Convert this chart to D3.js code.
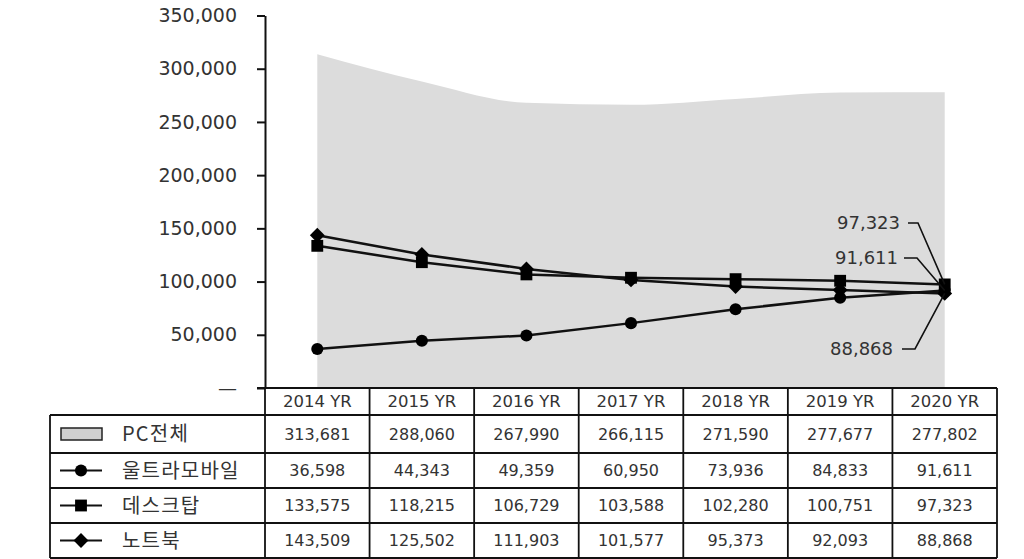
<!DOCTYPE html>
<html><head><meta charset="utf-8">
<script src="https://cdn.jsdelivr.net/npm/d3@7"></script>
<style>
body{margin:0;background:#fff;}
svg{display:block;}
</style></head>
<body><svg id="c" width="1024" height="559"></svg>
<script>
const years = ["2014 YR","2015 YR","2016 YR","2017 YR","2018 YR","2019 YR","2020 YR"];
const seriesNames = ["PC전체","울트라모바일","데스크탑","노트북"];
const pcTotal = [313681,288060,267990,266115,271590,277677,277802];
const ultraMobile = [36598,44343,49359,60950,73936,84833,91611];
const desktop = [133575,118215,106729,103588,102280,100751,97323];
const notebook = [143509,125502,111903,101577,95373,92093,88868];
const yTicks = [0,50000,100000,150000,200000,250000,300000,350000];

const svg = d3.select("#c");
const numFont = "DejaVu Sans, sans-serif";
const krFont = "'Noto Sans CJK KR', sans-serif";
const txtColor = "#333";
const fmt = d3.format(",");

const x = d3.scaleBand().domain(years).range([265, 997]);
const y = d3.scaleLinear().domain([0, 350000]).range([388, 15.5]);
const cx = d => x(d) + x.bandwidth()/2;

// area
const area = d3.area().x((d,i)=>cx(years[i])).y0(y(0)).y1(d=>y(d)).curve(d3.curveMonotoneX);
svg.append("path").datum(pcTotal).attr("d", area).attr("fill", "#dcdcdc");

// y axis
const yAxis = d3.axisLeft(y).tickValues(yTicks).tickSize(8).tickSizeOuter(0).tickPadding(20)
  .tickFormat(d => d === 0 ? "—" : fmt(d));
const ga = svg.append("g").attr("transform", "translate(265,0)").call(yAxis);
ga.selectAll("text").attr("font-family", numFont).attr("font-size", 19).attr("fill", txtColor);
ga.selectAll("line,path").attr("stroke", "#111").attr("stroke-width", 2);

// lines
const diamond = {draw(ctx, size){ const r = Math.sqrt(size/2); ctx.moveTo(0,-r); ctx.lineTo(r,0); ctx.lineTo(0,r); ctx.lineTo(-r,0); ctx.closePath(); }};
const lineSeries = [
  {name: seriesNames[1], data: ultraMobile, sym: d3.symbolCircle, size: 115},
  {name: seriesNames[2], data: desktop, sym: d3.symbolSquare, size: 140},
  {name: seriesNames[3], data: notebook, sym: diamond, size: 110},
];
const line = d3.line().x((d,i)=>cx(years[i])).y(d=>y(d));
lineSeries.forEach(s => {
  svg.append("path").datum(s.data).attr("d", line).attr("fill","none").attr("stroke","#111").attr("stroke-width",2.5);
});
lineSeries.forEach(s => {
  svg.append("g").selectAll("path").data(s.data).join("path")
    .attr("transform", (d,i)=>`translate(${cx(years[i])},${y(d)})`)
    .attr("d", d3.symbol().type(s.sym).size(s.size)).attr("fill","#000");
});

// end labels
const last = years.length - 1;
const ann = [
  {v: desktop[last], tx: 900, ty: 223, lx0: 908, lx1: 918},
  {v: ultraMobile[last], tx: 898, ty: 258, lx0: 904, lx1: 917},
  {v: notebook[last], tx: 893, ty: 349, lx0: 902, lx1: 915},
];
ann.forEach(a => {
  svg.append("text").attr("x", a.tx).attr("y", a.ty).attr("dy","0.36em").attr("text-anchor","end")
    .attr("font-family", numFont).attr("font-size", 18).attr("fill",txtColor).text(fmt(a.v));
  svg.append("polyline").attr("points", `${a.lx0},${a.ty} ${a.lx1},${a.ty} ${cx(years[last])},${y(a.v)}`)
    .attr("fill","none").attr("stroke","#111").attr("stroke-width",1.6);
});

// table
const rowY = [388, 415, 453, 488, 523, 558];
const tLeft = 50, tRight = 997;
const tg = svg.append("g").attr("stroke","#111").attr("stroke-width",1.8);
tg.append("line").attr("x1", 257).attr("x2", tRight).attr("y1", rowY[0]).attr("y2", rowY[0]);
for (let r = 1; r < rowY.length; r++) {
  tg.append("line").attr("x1", tLeft).attr("x2", tRight).attr("y1", rowY[r]).attr("y2", rowY[r]);
}
years.forEach(yr => {
  tg.append("line").attr("x1", x(yr)).attr("x2", x(yr)).attr("y1", rowY[0]).attr("y2", rowY[5]);
});
tg.append("line").attr("x1", tRight).attr("x2", tRight).attr("y1", rowY[0]).attr("y2", rowY[5]);
tg.append("line").attr("x1", tLeft).attr("x2", tLeft).attr("y1", rowY[1]).attr("y2", rowY[5]);

// header
svg.append("g").selectAll("text").data(years).join("text")
  .attr("x", d => cx(d)).attr("y", (rowY[0]+rowY[1])/2).attr("dy","0.36em").attr("text-anchor","middle")
  .attr("font-family", numFont).attr("font-size", 16.5).attr("fill",txtColor).text(d => d);

const tableData = [pcTotal, ultraMobile, desktop, notebook];
tableData.forEach((vals, r) => {
  const yc = (rowY[r+1] + rowY[r+2]) / 2;
  svg.append("g").selectAll("text").data(vals).join("text")
    .attr("x", (d,i) => cx(years[i])).attr("y", yc).attr("dy","0.36em").attr("text-anchor","middle")
    .attr("font-family", numFont).attr("font-size", 16).attr("fill",txtColor).text(d => fmt(d));
  svg.append("text").attr("x", 122).attr("y", yc).attr("dy","0.36em")
    .attr("font-family", krFont).attr("font-size", 20).attr("letter-spacing", 1.2).attr("fill",txtColor).text(seriesNames[r]);
  if (r === 0) {
    svg.append("rect").attr("x", 61).attr("y", yc-6).attr("width", 41).attr("height", 12)
      .attr("fill","#cfcfcf").attr("stroke","#222").attr("stroke-width",1.5);
  } else {
    const s = lineSeries[r-1];
    svg.append("line").attr("x1", 60).attr("x2", 102).attr("y1", yc).attr("y2", yc).attr("stroke","#111").attr("stroke-width",2.2);
    svg.append("path").attr("transform", `translate(81,${yc})`).attr("d", d3.symbol().type(s.sym).size(s.size)).attr("fill","#000");
  }
});
</script></body></html>
